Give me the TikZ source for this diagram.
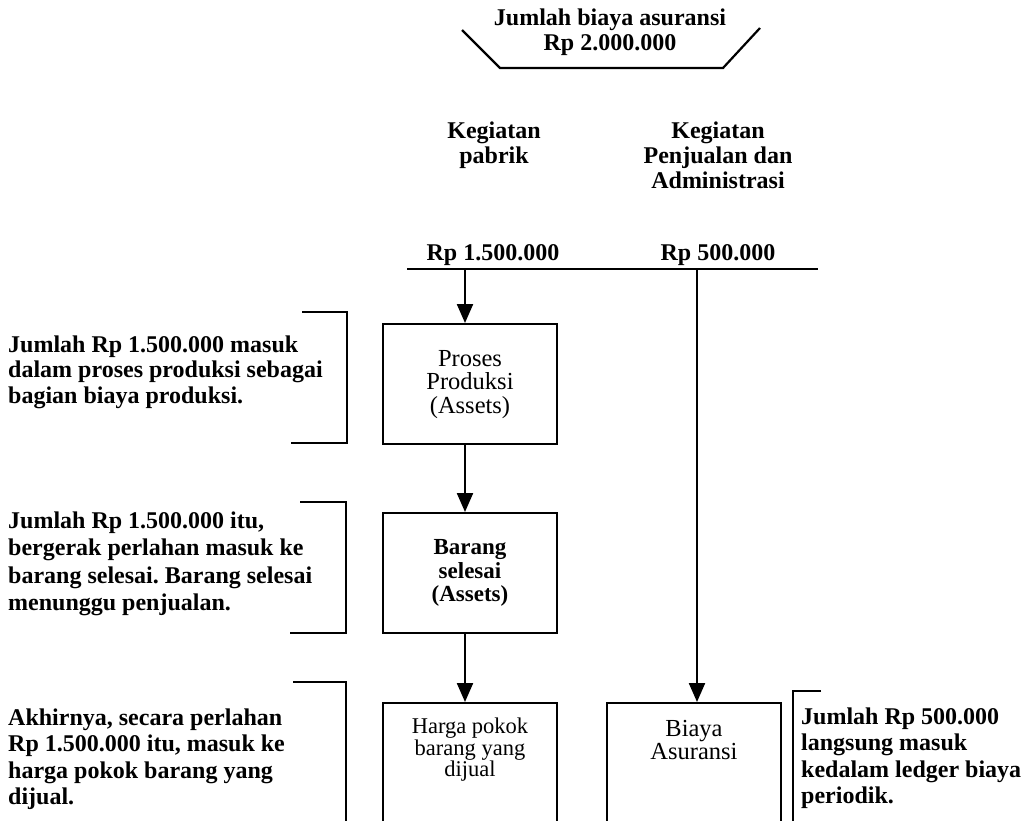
\documentclass[tikz,border=0pt]{standalone}
\usepackage{fontspec}
\setmainfont{Liberation Serif}
\usetikzlibrary{arrows.meta}
\frenchspacing
\begin{document}
\begin{tikzpicture}[x=1pt,y=-1pt,
  ln/.style={line width=2.2pt, line join=miter},
  arr/.style={line width=2.2pt, -{Triangle[length=19pt,width=16pt]}},
  box/.style={draw, line width=2.2pt, minimum width=174pt, inner sep=0pt, anchor=north},
  btxt/.style={align=center, font=\fontsize{24.5}{23.5}\selectfont, inner sep=0pt},
  note/.style={align=left, anchor=west, inner sep=0pt, font=\fontsize{24}{26.5}\selectfont\bfseries},
  head/.style={align=center, inner sep=0pt, font=\fontsize{24}{25}\selectfont\bfseries}]
\useasboundingbox (0,0) rectangle (1034,820);
\fill[white] (0,0) rectangle (1034,820);
\clip (0,0) rectangle (1034,820);

% title
\node[head] (title) at (610,32) {Jumlah biaya asuransi\\Rp 2.000.000};
\draw[ln] (462,30) -- (500,68) -- (723,68) -- (760,28);

% column heads
\node[head, anchor=north] (kp) at (494,122) {Kegiatan\\pabrik};
\node[head, anchor=north] (kj) at (718,122) {Kegiatan\\Penjualan dan\\Administrasi};
\node[head] (rp1) at (493,255) {Rp 1.500.000};
\node[head] (rp2) at (718,255) {Rp 500.000};

% distribution line
\coordinate (h1) at (407,269);
\coordinate (h2) at (818,269);
\coordinate (cL) at (465,269);
\coordinate (cR) at (697,269);
\draw[ln] (h1) -- (h2);

% boxes
\node[box, minimum height=120pt, btxt] (pp) at (470,323) {Proses\\Produksi\\(Assets)};
\node[box, minimum height=120pt, btxt, font=\fontsize{23}{23.5}\selectfont\bfseries] (bs) at (470,512) {Barang\\selesai\\(Assets)};
\node[box, minimum height=140pt] (hp) at (470,702) {};
\node[btxt, font=\fontsize{22.5}{21.5}\selectfont] (hpt) at (470,750) {Harga pokok\\barang yang\\dijual};
\node[box, minimum height=140pt] (bi) at (694,702) {};
\node[btxt, font=\fontsize{24.5}{22.5}\selectfont] (bit) at (694,740) {Biaya\\Asuransi};

% arrows
\draw[arr] (cL) -- (cL |- pp.north);
\draw[arr] (pp.south -| cL) -- (bs.north -| cL);
\draw[arr] (bs.south -| cL) -- (hp.north -| cL);
\draw[arr] (cR) -- (cR |- bi.north);

% notes
\node[note, font=\fontsize{24}{25.5}\selectfont\bfseries] (n1) at (8,372) {Jumlah Rp 1.500.000 masuk\\dalam proses produksi sebagai\\bagian biaya produksi.};
\node[note, font=\fontsize{24}{27.5}\selectfont\bfseries] (n2) at (8,564) {Jumlah Rp 1.500.000 itu,\\bergerak perlahan masuk ke\\barang selesai. Barang selesai\\menunggu penjualan.};
\node[note] (n3) at (8,759) {Akhirnya, secara perlahan\\Rp 1.500.000 itu, masuk ke\\harga pokok barang yang\\dijual.};
\node[note] (n4) at (801,758) {Jumlah Rp 500.000\\langsung masuk\\kedalam ledger biaya\\periodik.};

% brackets
\draw[ln] (302,312) -- (347,312) -- (347,443) -- (291,443);
\draw[ln] (300,502) -- (346,502) -- (346,633) -- (290,633);
\draw[ln] (293,682) -- (346,682) -- (346,840);
\draw[ln] (821,691) -- (793,691) -- (793,840);
\end{tikzpicture}
\end{document}
